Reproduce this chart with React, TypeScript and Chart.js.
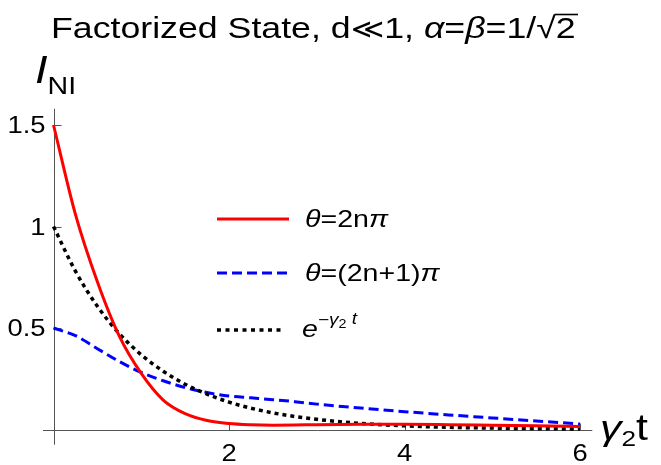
import React, { useEffect, useRef } from "react";
import { Chart, registerables } from "chart.js";

Chart.register(...registerables);

// time axis (γ2 t)
const tValues = [0, 0.25, 0.5, 0.75, 1, 1.25, 1.5, 1.75, 2, 2.25, 2.5, 2.75, 3, 3.5, 4, 4.5, 5, 5.5, 6];
// θ = 2nπ
const redValues = [1.5, 1.06, 0.728, 0.46, 0.276, 0.145, 0.078, 0.044, 0.029, 0.023, 0.021, 0.022, 0.024, 0.026, 0.026, 0.024, 0.021, 0.018, 0.015];
// θ = (2n+1)π
const blueValues = [0.5, 0.462, 0.398, 0.335, 0.281, 0.24, 0.207, 0.182, 0.165, 0.156, 0.147, 0.137, 0.125, 0.106, 0.088, 0.072, 0.057, 0.042, 0.027];
// e^{-γ2 t}
const blackValues = [1, 0.78, 0.607, 0.472, 0.368, 0.287, 0.223, 0.174, 0.135, 0.105, 0.082, 0.064, 0.05, 0.03, 0.018, 0.011, 0.007, 0.004, 0.0025];

const xTicks = [2, 4, 6];
const yTicks = [0.5, 1, 1.5];
const xTickLabels = ["2", "4", "6"];
const yTickLabels = ["0.5", "1", "1.5"];

type Seg = { text: string; font: string; dy?: number; over?: boolean };

const FAM = '"Liberation Sans", Arial, "DejaVu Sans", sans-serif';
const SX = 1.19; // horizontal stretch of the reference text

function richWidth(ctx: CanvasRenderingContext2D, segs: Seg[]) {
  let w = 0;
  for (const s of segs) {
    ctx.font = s.font;
    w += ctx.measureText(s.text).width;
  }
  return w * SX;
}

function drawRich(ctx: CanvasRenderingContext2D, x: number, y: number, segs: Seg[]) {
  ctx.save();
  ctx.translate(x, y);
  ctx.scale(SX, 1);
  let cx = 0;
  ctx.textAlign = "left";
  ctx.textBaseline = "alphabetic";
  for (const s of segs) {
    ctx.font = s.font;
    ctx.fillText(s.text, cx, s.dy || 0);
    const m = ctx.measureText(s.text);
    const w = m.width;
    if (s.over) {
      ctx.save();
      ctx.lineWidth = 1.6;
      ctx.strokeStyle = "#000";
      ctx.beginPath();
      const top = (s.dy || 0) - m.actualBoundingBoxAscent - 3.5;
      ctx.moveTo(cx - 1, top);
      ctx.lineTo(cx + w + 2, top);
      ctx.stroke();
      ctx.restore();
    }
    cx += w;
  }
  ctx.restore();
  return cx * SX;
}

const decor = {
  id: "decor",
  beforeDatasetsDraw(chart: any) {
    const ctx: CanvasRenderingContext2D = chart.ctx;
    const xs = chart.scales.x;
    const ys = chart.scales.y;
    const x0 = Math.round(xs.getPixelForValue(0)) + 0.5;
    const y0 = Math.round(ys.getPixelForValue(0)) + 0.5;
    ctx.save();
    ctx.strokeStyle = "#555";
    ctx.lineWidth = 1;
    ctx.beginPath();
    ctx.moveTo(xs.getPixelForValue(-0.12), y0);
    ctx.lineTo(xs.getPixelForValue(6.14), y0);
    ctx.moveTo(x0, ys.getPixelForValue(1.58));
    ctx.lineTo(x0, ys.getPixelForValue(-0.075));
    xTicks.forEach((v) => {
      const px = Math.round(xs.getPixelForValue(v)) + 0.5;
      ctx.moveTo(px, y0);
      ctx.lineTo(px, y0 - 7);
    });
    yTicks.forEach((v) => {
      const py = Math.round(ys.getPixelForValue(v)) + 0.5;
      ctx.moveTo(x0, py);
      ctx.lineTo(x0 + 7, py);
    });
    ctx.stroke();

    ctx.fillStyle = "#000";
    const f = "23px " + FAM;
    xTicks.forEach((v, i) => {
      const segs = [{ text: xTickLabels[i], font: f }];
      const w = richWidth(ctx, segs);
      drawRich(ctx, xs.getPixelForValue(v) - w / 2, y0 + 30, segs);
    });
    yTicks.forEach((v, i) => {
      const segs = [{ text: yTickLabels[i], font: f }];
      const w = richWidth(ctx, segs);
      drawRich(ctx, x0 - 9 - w, ys.getPixelForValue(v) + 8, segs);
    });
    ctx.restore();
  },
  afterDraw(chart: any) {
    const ctx: CanvasRenderingContext2D = chart.ctx;
    ctx.save();
    ctx.fillStyle = "#000";
    const R = (n: number) => `${n}px ${FAM}`;
    const I = (n: number) => `italic ${n}px ${FAM}`;
    // title
    drawRich(ctx, 51, 38, [
      { text: "Factorized State, d", font: R(30) },
      { text: "\u226A", font: `27px "DejaVu Sans", sans-serif` },
      { text: "1, ", font: R(30) },
      { text: "\u03B1", font: I(30) },
      { text: "=", font: R(30) },
      { text: "\u03B2", font: I(30) },
      { text: "=1/", font: R(30) },
      { text: "\u221A", font: R(30) },
      { text: "2", font: R(30), over: true },
    ]);
    // y label
    drawRich(ctx, 35, 83, [
      { text: "I", font: I(38) },
      { text: "NI", font: R(24), dy: 11 },
    ]);
    // x label
    drawRich(ctx, 600, 440, [
      { text: "\u03B3", font: I(36) },
      { text: "2", font: R(22), dy: 6 },
      { text: "t", font: R(36) },
    ]);

    // legend
    const lx1 = 217, tx = 305;
    const rows = [219, 273, 330];
    const styles = [
      { color: "#ff0000", dash: [] as number[], w: 3, end: 289 },
      { color: "#0000ff", dash: [10, 5], w: 3, end: 289 },
      { color: "#000000", dash: [4, 4.5], w: 3.5, end: 285 },
    ];
    rows.forEach((y, i) => {
      const s = styles[i];
      ctx.save();
      ctx.strokeStyle = s.color;
      ctx.lineWidth = s.w;
      ctx.setLineDash(s.dash);
      ctx.beginPath();
      ctx.moveTo(lx1, y);
      ctx.lineTo(s.end, y);
      ctx.stroke();
      ctx.restore();
    });
    ctx.fillStyle = "#000";
    drawRich(ctx, tx, rows[0] + 8, [
      { text: "\u03B8", font: I(24) },
      { text: "=2n", font: R(24) },
      { text: "\u03C0", font: I(24) },
    ]);
    drawRich(ctx, tx, rows[1] + 8, [
      { text: "\u03B8", font: I(24) },
      { text: "=(2n+1)", font: R(24) },
      { text: "\u03C0", font: I(24) },
    ]);
    drawRich(ctx, 302, rows[2] + 7, [
      { text: "e", font: I(24) },
      { text: "\u2212", font: R(16), dy: -12 },
      { text: "\u03B3", font: I(16), dy: -12 },
      { text: "2", font: R(12), dy: -9 },
      { text: " t", font: I(16), dy: -13 },
    ]);
    ctx.restore();
  },
};

export default function App() {
  const ref = useRef<HTMLCanvasElement | null>(null);
  useEffect(() => {
    if (!ref.current) return;
    const mk = (vals: number[]) => tValues.map((t, i) => ({ x: t, y: vals[i] }));
    const chart = new Chart(ref.current, {
      type: "line",
      data: {
        datasets: [
          { label: "θ=2nπ", data: mk(redValues), borderColor: "#ff0000", borderWidth: 3, cubicInterpolationMode: "monotone", clip: false, pointRadius: 0 },
          { label: "e^{-γ2 t}", data: mk(blackValues), borderColor: "#000000", borderWidth: 3.5, borderDash: [4, 4], cubicInterpolationMode: "monotone", clip: false, pointRadius: 0 },
          { label: "θ=(2n+1)π", data: mk(blueValues), borderColor: "#0000ff", borderWidth: 3, borderDash: [10, 5], cubicInterpolationMode: "monotone", clip: false, pointRadius: 0 },
        ],
      } as any,
      options: {
        responsive: false,
        animation: false,
        devicePixelRatio: 1,
        layout: { padding: { left: 53.5, right: 81, top: 125, bottom: 35.5 } },
        scales: {
          x: { type: "linear", min: 0, max: 6, display: false },
          y: { type: "linear", min: 0, max: 1.5, display: false },
        },
        plugins: { legend: { display: false }, tooltip: { enabled: false }, title: { display: false } },
      } as any,
      plugins: [decor],
    });
    return () => chart.destroy();
  }, []);
  return (
    <div style={{ position: "fixed", left: 0, top: 0, width: 661, height: 465, background: "#fff" }}>
      <canvas ref={ref} width={661} height={465} style={{ width: 661, height: 465, display: "block" }} />
    </div>
  );
}
